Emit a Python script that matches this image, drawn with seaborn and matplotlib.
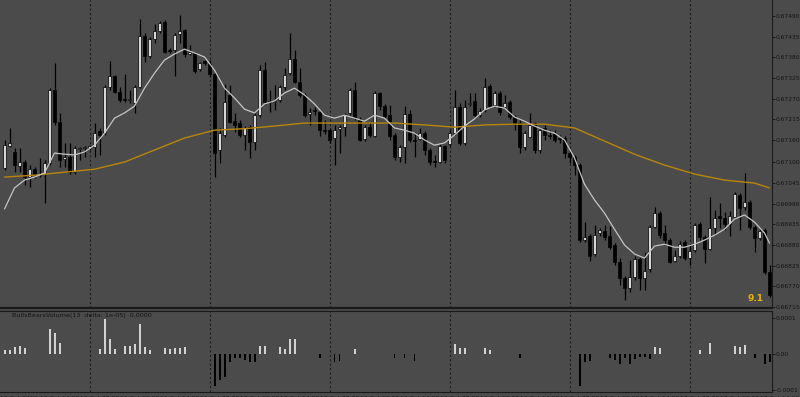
import matplotlib
matplotlib.use("Agg")
import matplotlib.pyplot as plt
import numpy as np
import pandas as pd
import seaborn as sns

BG = "#4b4b4b"
INK = "#141414"

# H1 candles, oldest first
opens = [0.67085, 0.67144, 0.67128, 0.67090, 0.67101, 0.67061, 0.67082, 0.67069, 0.67069, 0.67098,
         0.67293, 0.67208, 0.67109, 0.67114, 0.67074, 0.67136, 0.67138, 0.67138, 0.67141, 0.67184,
         0.67178, 0.67301, 0.67330, 0.67288, 0.67269, 0.67266, 0.67258, 0.67301, 0.67437, 0.67384,
         0.67429, 0.67450, 0.67474, 0.67400, 0.67400, 0.67442, 0.67453, 0.67389, 0.67392, 0.67349,
         0.67370, 0.67362, 0.67336, 0.67133, 0.67173, 0.67280, 0.67210, 0.67205, 0.67173, 0.67194,
         0.67154, 0.67226, 0.67346, 0.67264, 0.67261, 0.67266, 0.67301, 0.67338, 0.67376, 0.67314,
         0.67280, 0.67229, 0.67240, 0.67234, 0.67186, 0.67186, 0.67165, 0.67189, 0.67194, 0.67232,
         0.67293, 0.67216, 0.67162, 0.67194, 0.67170, 0.67285, 0.67250, 0.67226, 0.67173, 0.67114,
         0.67141, 0.67229, 0.67160, 0.67162, 0.67178, 0.67133, 0.67104, 0.67101, 0.67144, 0.67149,
         0.67178, 0.67248, 0.67152, 0.67256, 0.67264, 0.67226, 0.67240, 0.67304, 0.67253, 0.67285,
         0.67248, 0.67261, 0.67221, 0.67205, 0.67141, 0.67168, 0.67205, 0.67133, 0.67192, 0.67173,
         0.67176, 0.67165, 0.67165, 0.67125, 0.67114, 0.67093, 0.66893, 0.66904, 0.66856, 0.66912,
         0.66917, 0.66904, 0.66880, 0.66834, 0.66792, 0.66765, 0.66794, 0.66842, 0.66792, 0.66816,
         0.66928, 0.66965, 0.66912, 0.66893, 0.66837, 0.66850, 0.66888, 0.66845, 0.66866, 0.66936,
         0.66901, 0.66869, 0.66925, 0.66957, 0.66952, 0.66936, 0.66954, 0.67013, 0.66981, 0.66994,
         0.66928, 0.66898, 0.66920, 0.66808]
highs = [0.67160, 0.67192, 0.67138, 0.67138, 0.67106, 0.67093, 0.67088, 0.67112, 0.67106, 0.67298,
         0.67365, 0.67232, 0.67152, 0.67152, 0.67144, 0.67141, 0.67144, 0.67146, 0.67205, 0.67192,
         0.67306, 0.67370, 0.67333, 0.67301, 0.67336, 0.67293, 0.67306, 0.67482, 0.67445, 0.67434,
         0.67469, 0.67477, 0.67480, 0.67405, 0.67445, 0.67493, 0.67456, 0.67413, 0.67394, 0.67368,
         0.67373, 0.67373, 0.67341, 0.67192, 0.67309, 0.67306, 0.67232, 0.67213, 0.67197, 0.67200,
         0.67232, 0.67360, 0.67368, 0.67293, 0.67306, 0.67306, 0.67352, 0.67445, 0.67400, 0.67352,
         0.67285, 0.67245, 0.67248, 0.67240, 0.67213, 0.67192, 0.67200, 0.67200, 0.67232, 0.67298,
         0.67314, 0.67221, 0.67200, 0.67208, 0.67290, 0.67288, 0.67256, 0.67253, 0.67178, 0.67146,
         0.67250, 0.67240, 0.67181, 0.67192, 0.67184, 0.67138, 0.67120, 0.67149, 0.67146, 0.67186,
         0.67293, 0.67258, 0.67266, 0.67285, 0.67285, 0.67245, 0.67325, 0.67309, 0.67290, 0.67290,
         0.67280, 0.67266, 0.67226, 0.67213, 0.67184, 0.67232, 0.67208, 0.67192, 0.67200, 0.67186,
         0.67186, 0.67173, 0.67170, 0.67133, 0.67120, 0.67098, 0.66941, 0.66909, 0.66933, 0.66925,
         0.66933, 0.66930, 0.66885, 0.66845, 0.66797, 0.66840, 0.66850, 0.66848, 0.66861, 0.66933,
         0.66981, 0.66970, 0.66933, 0.66898, 0.66866, 0.66890, 0.66893, 0.66882, 0.66938, 0.66941,
         0.66906, 0.67008, 0.66973, 0.66992, 0.66968, 0.66970, 0.67021, 0.67018, 0.67072, 0.67000,
         0.66933, 0.66922, 0.66925, 0.66826]
lows = [0.67080, 0.67141, 0.67074, 0.67074, 0.67040, 0.67034, 0.67058, 0.67061, 0.66992, 0.67093,
        0.67200, 0.67088, 0.67088, 0.67069, 0.67069, 0.67106, 0.67114, 0.67133, 0.67114, 0.67120,
        0.67173, 0.67293, 0.67285, 0.67261, 0.67261, 0.67258, 0.67232, 0.67298, 0.67368, 0.67378,
        0.67418, 0.67445, 0.67392, 0.67392, 0.67330, 0.67418, 0.67381, 0.67386, 0.67338, 0.67344,
        0.67360, 0.67328, 0.67061, 0.67098, 0.67168, 0.67205, 0.67181, 0.67168, 0.67133, 0.67112,
        0.67133, 0.67221, 0.67256, 0.67234, 0.67240, 0.67261, 0.67293, 0.67333, 0.67312, 0.67274,
        0.67221, 0.67200, 0.67226, 0.67170, 0.67176, 0.67152, 0.67093, 0.67125, 0.67170, 0.67226,
        0.67213, 0.67157, 0.67157, 0.67168, 0.67168, 0.67240, 0.67218, 0.67160, 0.67106, 0.67101,
        0.67098, 0.67154, 0.67114, 0.67160, 0.67120, 0.67093, 0.67088, 0.67098, 0.67098, 0.67144,
        0.67173, 0.67146, 0.67146, 0.67250, 0.67221, 0.67221, 0.67234, 0.67245, 0.67248, 0.67226,
        0.67245, 0.67216, 0.67186, 0.67125, 0.67133, 0.67165, 0.67125, 0.67125, 0.67160, 0.67162,
        0.67154, 0.67152, 0.67112, 0.67098, 0.67066, 0.66888, 0.66888, 0.66837, 0.66850, 0.66904,
        0.66893, 0.66869, 0.66826, 0.66773, 0.66733, 0.66754, 0.66786, 0.66760, 0.66760, 0.66808,
        0.66925, 0.66898, 0.66880, 0.66832, 0.66834, 0.66845, 0.66840, 0.66826, 0.66861, 0.66893,
        0.66832, 0.66866, 0.66906, 0.66925, 0.66920, 0.66904, 0.66952, 0.66920, 0.66973, 0.66922,
        0.66861, 0.66893, 0.66802, 0.66741]
closes = [0.67146, 0.67152, 0.67093, 0.67101, 0.67061, 0.67082, 0.67069, 0.67066, 0.67098, 0.67293,
          0.67208, 0.67106, 0.67114, 0.67074, 0.67138, 0.67138, 0.67141, 0.67144, 0.67178, 0.67173,
          0.67301, 0.67330, 0.67288, 0.67266, 0.67266, 0.67269, 0.67301, 0.67437, 0.67384, 0.67429,
          0.67450, 0.67472, 0.67394, 0.67397, 0.67440, 0.67450, 0.67389, 0.67394, 0.67344, 0.67365,
          0.67365, 0.67336, 0.67125, 0.67178, 0.67261, 0.67208, 0.67200, 0.67173, 0.67192, 0.67154,
          0.67226, 0.67346, 0.67261, 0.67261, 0.67264, 0.67301, 0.67333, 0.67376, 0.67314, 0.67280,
          0.67226, 0.67234, 0.67237, 0.67186, 0.67184, 0.67160, 0.67186, 0.67194, 0.67226, 0.67293,
          0.67218, 0.67160, 0.67194, 0.67173, 0.67285, 0.67250, 0.67224, 0.67170, 0.67114, 0.67141,
          0.67229, 0.67160, 0.67157, 0.67178, 0.67133, 0.67101, 0.67101, 0.67144, 0.67106, 0.67178,
          0.67248, 0.67152, 0.67248, 0.67258, 0.67226, 0.67237, 0.67301, 0.67250, 0.67285, 0.67234,
          0.67258, 0.67221, 0.67205, 0.67141, 0.67178, 0.67200, 0.67133, 0.67186, 0.67173, 0.67170,
          0.67160, 0.67162, 0.67125, 0.67114, 0.67093, 0.66893, 0.66901, 0.66850, 0.66906, 0.66920,
          0.66901, 0.66874, 0.66834, 0.66792, 0.66765, 0.66794, 0.66842, 0.66792, 0.66810, 0.66928,
          0.66965, 0.66906, 0.66893, 0.66834, 0.66850, 0.66882, 0.66845, 0.66864, 0.66933, 0.66901,
          0.66869, 0.66925, 0.66952, 0.66952, 0.66936, 0.66957, 0.67016, 0.66978, 0.66994, 0.66928,
          0.66898, 0.66917, 0.66808, 0.66746]

# fast moving average (white), read every second bar
fast_ma_bars = [0, 2, 4, 6, 8, 10, 12, 14, 16, 18, 20, 22, 24, 26, 28, 30, 32, 34, 36, 38,
                40, 42, 44, 46, 48, 50, 52, 54, 56, 58, 60, 62, 64, 66, 68, 70, 72, 74, 76, 78,
                80, 82, 84, 86, 88, 90, 92, 94, 96, 98, 100, 102, 104, 106, 108, 110, 112, 114, 116, 118,
                120, 122, 124, 126, 128, 130, 132, 134, 136, 138, 140, 142, 144, 146, 148, 150, 152, 153]
fast_ma = [0.66976, 0.67032, 0.67053, 0.67061, 0.67072, 0.67125, 0.67122, 0.67120, 0.67128, 0.67146,
           0.67178, 0.67218, 0.67232, 0.67250, 0.67298, 0.67338, 0.67373, 0.67389, 0.67402, 0.67392,
           0.67381, 0.67346, 0.67298, 0.67272, 0.67242, 0.67232, 0.67256, 0.67264, 0.67285, 0.67298,
           0.67280, 0.67256, 0.67226, 0.67218, 0.67226, 0.67218, 0.67210, 0.67226, 0.67218, 0.67192,
           0.67186, 0.67178, 0.67160, 0.67146, 0.67152, 0.67173, 0.67197, 0.67216, 0.67240, 0.67250,
           0.67245, 0.67221, 0.67210, 0.67197, 0.67186, 0.67178, 0.67160, 0.67112, 0.67042, 0.67000,
           0.66965, 0.66922, 0.66880, 0.66856, 0.66845, 0.66877, 0.66882, 0.66874, 0.66874, 0.66882,
           0.66893, 0.66906, 0.66922, 0.66949, 0.66960, 0.66941, 0.66912, 0.66885]

# slow moving average (gold), read every sixth bar
slow_ma_bars = [0, 6, 12, 18, 24, 30, 36, 42, 48, 54, 60, 66, 72, 78, 84, 90, 96, 102, 108, 114,
                120, 126, 132, 138, 144, 150, 153]
slow_ma = [0.67061, 0.67066, 0.67074, 0.67082, 0.67101, 0.67133, 0.67165, 0.67186, 0.67190, 0.67197,
           0.67205, 0.67205, 0.67205, 0.67205, 0.67200, 0.67194, 0.67200, 0.67202, 0.67202, 0.67192,
           0.67157, 0.67122, 0.67093, 0.67069, 0.67053, 0.67045, 0.67032]

# BullsBearsVolume histogram, in units of 1e-5
bbv = [1.0, 1.0, 1.9, 2.2, 1.6, 0, 0, 0, 0, 6.8,
       5.8, 3.1, 0, 0, 0, 0, 0, 0, 0, 1.3,
       9.6, 4.2, 1.3, 0, 2.3, 2.3, 2.6, 8.2, 1.9, 1.1,
       0, 0, 1.7, 1.3, 1.7, 1.7, 1.9, 0, 0, 0,
       0, 0, -8.9, -7.4, -6.5, -2.2, -1.3, -1.3, -1.6, -2.2,
       -2.2, 2.2, 2.2, 0, 0, 1.9, 1.3, 4.2, 4.2, 0,
       0, 0, 0, -1.3, 0, 0, -2.2, -1.9, 0, 0,
       1.3, 0, 0, 0, 0, 0, 0, 0, -1.3, 0,
       -1.1, 0, -1.9, 0, 0, 0, 0, 0, 0, 0,
       2.6, 1.5, 1.6, 0, 0, 0, 1.6, 1.0, 0, 0,
       0, 0, 0, -1.1, 0, 0, 0, 0, 0, 0,
       0, 0, 0, 0, 0, -8.9, -2.2, -1.9, 0, 0,
       0, -1.1, -1.6, -2.9, -1.3, -2.8, -1.5, -1.0, -1.0, -1.5,
       1.9, 1.6, 0, 0, 0, 0, 0, 0, 0, 1.0,
       0, 3.0, 0, 0, 0, 0, 2.2, 2.0, 2.4, 0,
       -1.3, 0, -2.9, -2.3]

price_ticks = [0.66715, 0.66770, 0.66825, 0.66880, 0.66935, 0.66990, 0.67045, 0.67100,
               0.67160, 0.67215, 0.67270, 0.67325, 0.67380, 0.67435, 0.67490]
day_breaks = [17, 41, 65, 89, 113, 137]
time_labels = ["10 Oct 2023", "10 Oct 14:00", "10 Oct 22:00", "11 Oct 06:00", "11 Oct 14:00",
               "11 Oct 22:00", "12 Oct 06:00", "12 Oct 14:00", "12 Oct 22:00", "13 Oct 06:00",
               "13 Oct 14:00", "13 Oct 22:00", "16 Oct 06:00", "16 Oct 14:00", "16 Oct 22:00",
               "17 Oct 06:00", "17 Oct 14:00", "17 Oct 22:00", "18 Oct 06:00", "18 Oct 14:00"]

sns.set_theme(style="dark", rc={"axes.facecolor": BG, "figure.facecolor": BG})
plt.rcParams["font.family"] = ["DejaVu Sans"]

W, H = 800, 397
fig = plt.figure(figsize=(W / 100, H / 100), dpi=100)
ax = fig.add_axes([0, 89 / H, 772 / W, 308 / H])
sub = fig.add_axes([0, 5 / H, 772 / W, 81 / H])

df = pd.DataFrame({"bar": np.arange(len(opens)), "open": opens, "high": highs,
                   "low": lows, "close": closes})
up = df["close"] >= df["open"]

# candles
ax.vlines(df["bar"], df["low"], df["high"], color="#000000", lw=0.9, zorder=2)
body_lo = df[["open", "close"]].min(axis=1)
body_h = (df["close"] - df["open"]).abs().clip(lower=0.000015)
ax.bar(df["bar"][up], body_h[up], bottom=body_lo[up], width=0.55,
       color="#d6d6d6", edgecolor="#000000", linewidth=0.5, zorder=3)
ax.bar(df["bar"][~up], body_h[~up], bottom=body_lo[~up], width=0.55,
       color="#000000", edgecolor="#000000", linewidth=0.5, zorder=3)

fast_df = pd.DataFrame({"bar": fast_ma_bars, "ma": fast_ma})
slow_df = pd.DataFrame({"bar": slow_ma_bars, "ma": slow_ma})
sns.lineplot(data=slow_df, x="bar", y="ma", ax=ax, color="#b8860b", lw=1.0, zorder=4)
sns.lineplot(data=fast_df, x="bar", y="ma", ax=ax, color="#c4c4c4", lw=0.9, zorder=4)

x_lo, x_hi = -0.9, 153.5
for a in (ax, sub):
    for b in day_breaks:
        a.axvline(b, color="#1e1e1e", lw=0.8, ls=(0, (2, 2)), zorder=1)
    a.set_xlim(x_lo, x_hi)
    a.set_xlabel("")
    a.set_ylabel("")
    a.grid(False)
    for s in a.spines.values():
        s.set_visible(False)
    a.spines["right"].set_visible(True)
    a.spines["right"].set_color("#1a1a1a")
    a.spines["right"].set_linewidth(0.8)

ax.set_ylim(0.66712, 0.67533)
ax.set_yticks(price_ticks)
ax.set_yticklabels([f"{p:.5f}" for p in price_ticks])
ax.yaxis.tick_right()
ax.tick_params(axis="y", colors=INK, labelsize=4.3, length=2, width=0.6, pad=0.6, labelcolor=INK)
ax.set_xticks([])
ax.spines["bottom"].set_visible(True)
ax.spines["bottom"].set_color("#1a1a1a")
ax.spines["bottom"].set_linewidth(1.6)

ax.text(3, 0.998, "AUDUSD,H1  0.65360 0.65389 0.65314 0.65315", transform=ax.get_yaxis_transform(),
        fontsize=4.6, color=INK, ha="left", va="top")
ax.text(0.978, 0.03, "9.1", transform=ax.transAxes, fontsize=6.5, fontweight="bold",
        color="#e8b400", ha="center", va="center")

# indicator subwindow
vals = np.array(bbv) * 1e-5
bar_idx = np.arange(len(vals))
pos = vals > 0
neg = vals < 0
sub.bar(bar_idx[pos], vals[pos], width=0.4, color="#d2d2d2", edgecolor="none", linewidth=0, zorder=3)
sub.bar(bar_idx[neg], vals[neg], width=0.4, color="#000000", edgecolor="none", linewidth=0, zorder=3)
sub.set_ylim(-0.0001065, 0.0001191)
sub.set_yticks([0.0001, 0.0, -0.0001])
sub.set_yticklabels(["0.0001", "0.00", "-0.0001"])
sub.yaxis.tick_right()
sub.tick_params(axis="y", colors=INK, labelsize=4.3, length=2, width=0.6, pad=0.6, labelcolor=INK)
sub.spines["top"].set_visible(True)
sub.spines["top"].set_color("#1a1a1a")
sub.spines["top"].set_linewidth(0.8)
sub.spines["bottom"].set_visible(True)
sub.spines["bottom"].set_color("#1a1a1a")
sub.spines["bottom"].set_linewidth(0.8)
sub.text(1.5, 0.0001135, "BullsBearsVolume(13  delta: 1e-05)  0.0000", fontsize=4.6,
         color=INK, ha="left", va="top")

# time labels sit on the bottom edge of the window, as in the terminal
tick_bars = [(40 * k - 4.5) / 5 for k in range(20)]
sub.set_xticks(tick_bars)
sub.set_xticklabels(time_labels, ha="left")
sub.tick_params(axis="x", colors=INK, labelsize=4.3, length=2, width=0.6, pad=1.0, labelcolor=INK)

fig.savefig("out.png", dpi=100, facecolor=BG)
